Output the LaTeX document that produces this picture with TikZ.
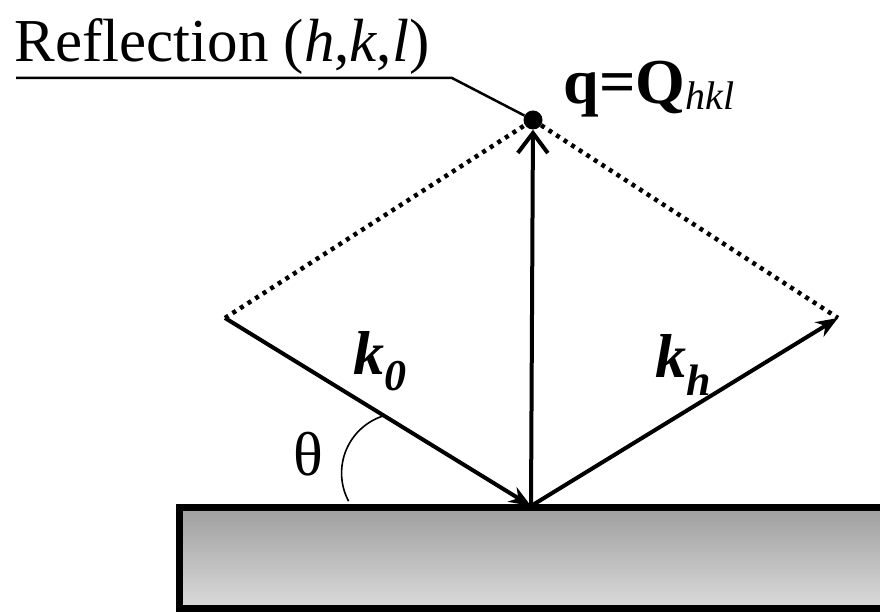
\documentclass[tikz,border=0pt]{standalone}
\usepackage{fontspec}
\setmainfont{Liberation Serif}
\usetikzlibrary{arrows.meta}

\begin{document}
\begin{tikzpicture}[
  x=1pt, y=1pt,
  vec/.style={line width=4pt, -{Stealth[length=22pt, width=17pt]}},
  guide/.style={line width=4.5pt, dash pattern=on 4pt off 5pt},
  dot/.style={circle, fill, inner sep=0, minimum size=19pt},
  label/.style={anchor=base west, font=\fontsize{61}{61}\selectfont}
]
\clip (0,0) rectangle (880,612);

% crystal slab
\draw[line width=7pt, top color=black!38, bottom color=black!14] (179,3) rectangle (930,104);

\coordinate (O) at (531,106);
\coordinate (A) at (225,294);
\coordinate (B) at (838,294);
\node[dot] (Q) at (533,492) {};
\coordinate (bend) at (452,534);
\coordinate (lineend) at (16,534);

\draw[guide] (A) -- (Q);
\draw[guide] (Q) -- (B);

\draw[vec] (A) -- (O);
\draw[vec] (O) -- (B);
\draw[line width=4pt, -{Straight Barb[length=20pt, width=30pt]}] (O) -- (Q);

\draw[line width=2.5pt] (Q) -- (bend) -- (lineend);

% angle
\draw[line width=1.6pt] (383,196) arc[start angle=108, end angle=208, radius=60];

\node[label] (refl) at (11,550) {Reflection (\textit{h},\textit{k},\textit{l})};
\node[label, font=\fontsize{64}{64}\selectfont\bfseries] (qlab) at (560,508)
  {q=Q\raisebox{-6pt}{\fontsize{40}{40}\selectfont\mdseries\itshape hkl}};
\node[label, font=\fontsize{62}{62}\selectfont\bfseries\itshape] (k0) at (350,237)
  {k\raisebox{-16pt}{\fontsize{44}{44}\selectfont 0}};
\node[label, font=\fontsize{62}{62}\selectfont\bfseries\itshape] (kh) at (652,234)
  {k\raisebox{-18pt}{\fontsize{44}{44}\selectfont h}};
\node[font=\fontsize{62}{62}\selectfont] (theta) at (308,158) {θ};
\end{tikzpicture}
\end{document}
